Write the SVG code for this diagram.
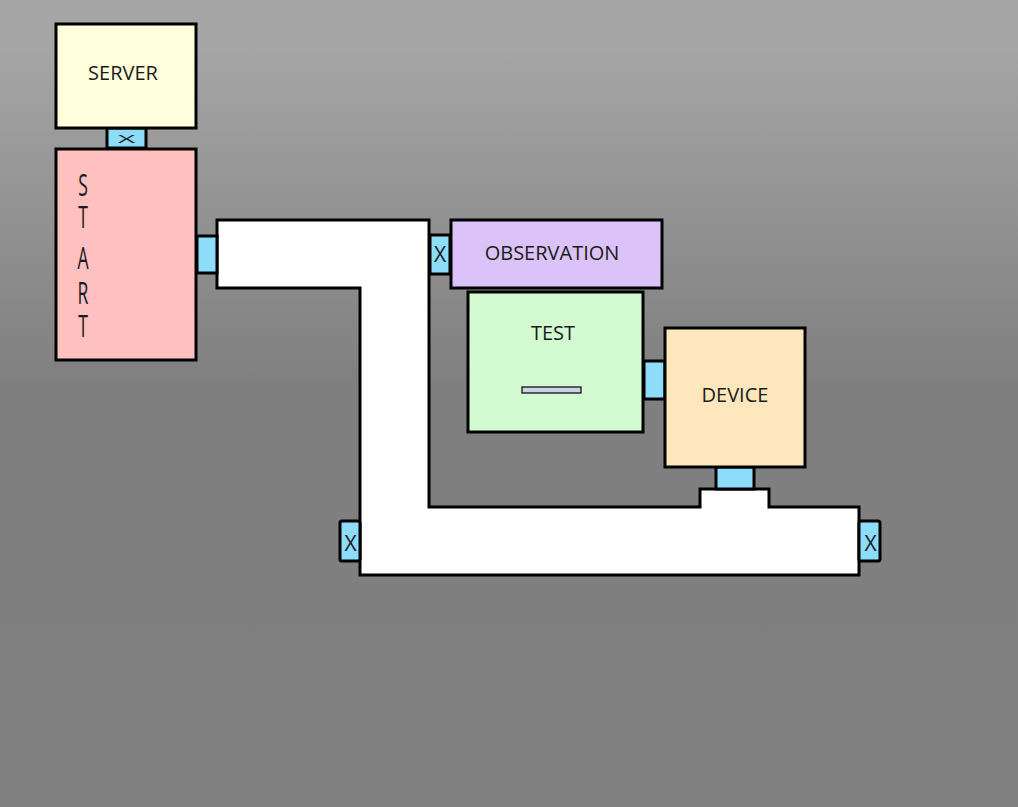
<svg xmlns="http://www.w3.org/2000/svg" width="1018" height="807" viewBox="0 0 1018 807">
<defs>
<linearGradient id="bg" x1="0" y1="0" x2="0" y2="1">
<stop offset="0.05" stop-color="#a6a6a6"/>
<stop offset="0.48" stop-color="#7f7f7f"/>
<stop offset="1" stop-color="#808080"/>
</linearGradient>
</defs>
<style>
.box{stroke:#000;stroke-width:3}
.port{fill:#8ddcf9;stroke:#000;stroke-width:3}
.lbl{font-family:"Open Sans","Noto Sans","DejaVu Sans",sans-serif;font-size:20px;fill:#1a1a1a;text-anchor:middle}
.x{font-family:"Open Sans","Noto Sans","DejaVu Sans",sans-serif;font-size:21px;fill:#1a1a1a;text-anchor:middle}
.v{font-family:"Open Sans","Noto Sans","DejaVu Sans",sans-serif;font-size:22px;fill:#1a1a1a;text-anchor:middle}
</style>
<rect x="0" y="0" width="1018" height="807" fill="url(#bg)"/>
<g id="connectors">
<path class="box" fill="#fff" d="M217,220 H429 V507 H700 V489 H769 V507 H859 V575 H360 V288 H217 Z"/>
<rect class="port" x="107" y="128" width="39" height="20"/>
<text class="x" transform="translate(126.5,142.5) scale(1.45,0.55)" x="0" y="0">X</text>
<rect class="port" x="197" y="236" width="20" height="37"/>
<rect class="port" x="430" y="235" width="20" height="39"/>
<text class="x" x="440" y="262">X</text>
<rect class="port" x="644" y="361" width="21" height="38"/>
<rect class="port" x="716" y="467" width="38" height="22"/>
<rect class="port" x="340" y="521" width="20" height="40" rx="2"/>
<text class="x" x="350.5" y="551">X</text>
<rect class="port" x="859" y="521" width="21" height="40" rx="2"/>
<text class="x" x="870.5" y="551">X</text>
</g>
<g id="server">
<rect class="box" x="56" y="24" width="140" height="104" fill="#ffffdc"/>
<text class="lbl" x="123" y="80">SERVER</text>
</g>
<g id="start">
<rect class="box" x="56" y="149" width="140" height="211" fill="#ffc0c0"/>
<text class="v" transform="translate(83,0) scale(0.8,1.4)"><tspan x="0" y="140">S</tspan><tspan x="0" y="162.9">T</tspan><tspan x="0" y="192.1">A</tspan><tspan x="0" y="217.1">R</tspan><tspan x="0" y="240.7">T</tspan></text>
</g>
<g id="observation">
<rect class="box" x="451" y="220" width="211" height="68" fill="#dbc3f9"/>
<text class="lbl" x="552" y="260">OBSERVATION</text>
</g>
<g id="test">
<rect class="box" x="468" y="292" width="175" height="140" fill="#d3fbd1"/>
<text class="lbl" x="553" y="340">TEST</text>
<rect x="522" y="387" width="59" height="6" fill="#c9d4e6" stroke="#000" stroke-width="1.2"/>
</g>
<g id="device">
<rect class="box" x="665" y="328" width="140" height="139" fill="#fee7bc"/>
<text class="lbl" x="735" y="402">DEVICE</text>
</g>
</svg>
